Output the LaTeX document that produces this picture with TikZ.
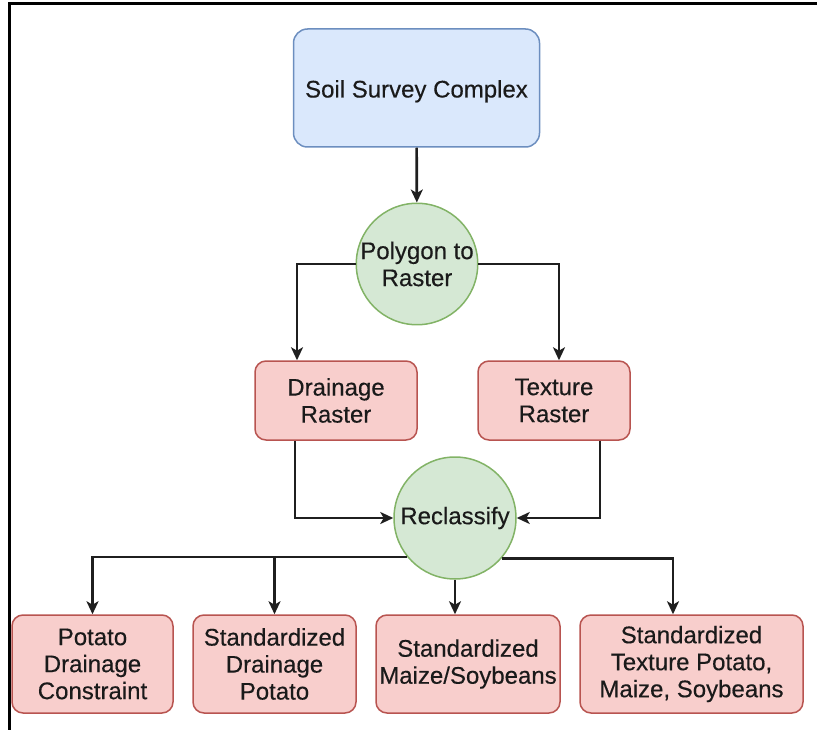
\documentclass[tikz,border=0pt]{standalone}
\usepackage{fontspec}
\setmainfont{Liberation Sans}
\newfontfamily\labelfamily{Liberation Sans}[FakeBold=0.35]
\usetikzlibrary{arrows.meta,calc}

\definecolor{blueFill}{HTML}{DAE8FC}
\definecolor{blueLine}{HTML}{6C8EBF}
\definecolor{redFill}{HTML}{F8CECC}
\definecolor{redLine}{HTML}{B85450}
\definecolor{greenFill}{HTML}{D5E8D4}
\definecolor{greenLine}{HTML}{82B366}
\definecolor{inkText}{HTML}{1A1A1A}

\tikzset{
  label font/.style={font=\labelfamily\fontsize{24}{27}\selectfont, text=inkText, align=center, inner sep=0pt},
  sourcebox/.style={label font, draw=blueLine, fill=blueFill, line width=1.5pt, rounded corners=14pt},
  databox/.style={label font, draw=redLine, fill=redFill, line width=1.5pt, rounded corners=11pt},
  process/.style={label font, circle, draw=greenLine, fill=greenFill, line width=1.5pt},
  flow/.style={draw=black!88, line width=2.6pt, -{Stealth[length=13pt,width=12pt,inset=3.5pt]}},
}

\begin{document}
\begin{tikzpicture}[x=1pt,y=-1pt]
\useasboundingbox (0,0) rectangle (817,730);

% outer frame
\draw[line width=3pt] (9,730) -- (9,4) -- (817,4);

% nodes
\node[sourcebox, minimum width=246pt, minimum height=118pt, text height=24pt, text depth=5pt] (soil) at (416.5,88) {Soil Survey Complex};
\node[process, minimum size=120pt] (poly) at (417,264) {Polygon to\\Raster};
\node[databox, minimum width=162pt, minimum height=79pt] (drain) at (336,400.5) {Drainage\\Raster};
\node[databox, minimum width=152pt, minimum height=79pt] (tex) at (554,400.5) {Texture\\Raster};
\node[process, minimum size=122pt] (recl) at (455,518) {Reclassify};
\node[databox, minimum width=161pt, minimum height=98pt] (pdc) at (92.5,664) {Potato\\Drainage\\Constraint};
\node[databox, minimum width=163pt, minimum height=98pt] (sdp) at (274.5,664) {Standardized\\Drainage\\Potato};
\node[databox, minimum width=184pt, minimum height=98pt] (sms) at (468,664) {Standardized\\Maize/Soybeans};
\node[databox, minimum width=223pt, minimum height=98pt] (stx) at (691.5,664) {Standardized\\Texture Potato,\\Maize, Soybeans};

% vertical guides for the elbow connectors
\coordinate (drainIn) at (297,0);
\coordinate (texIn) at (559,0);
\coordinate (drainOut) at (295,0);
\coordinate (texOut) at (600,0);
\coordinate (stxIn) at (673,0);

% connectors
\draw[flow] (soil) -- (poly);
\draw[flow] (poly.west) -| (drainIn |- drain.north);
\draw[flow] (poly.east) -| (texIn |- tex.north);
\draw[flow] (drainOut |- drain.south) |- (recl.west);
\draw[flow] (texOut |- tex.south) |- (recl.east);
\draw[flow] (recl.219) -| (pdc.north);
\draw[flow] (recl.219) -| (sdp.north);
\draw[flow] (recl.south) -- (recl.south |- sms.north);
\draw[flow] (recl.-41) -| (stxIn |- stx.north);
\end{tikzpicture}
\end{document}
